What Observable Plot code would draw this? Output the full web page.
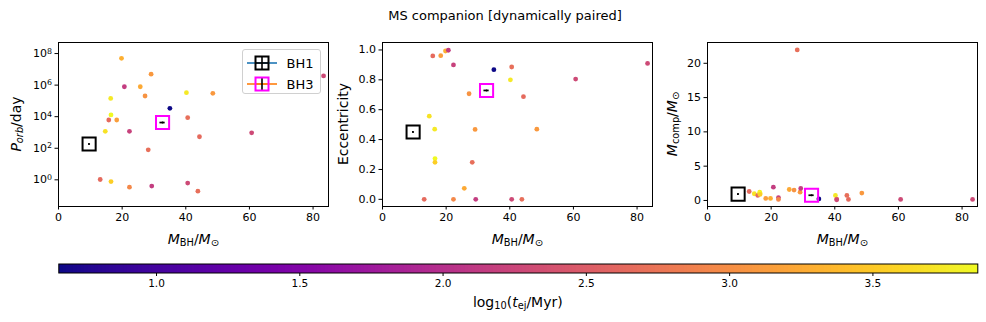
<!DOCTYPE html>
<html>
<head>
<meta charset="utf-8">
<script src="https://cdn.jsdelivr.net/npm/d3@7"></script>
<script src="https://cdn.jsdelivr.net/npm/@observablehq/plot@0.6"></script>
<style>
  html, body { margin: 0; padding: 0; background: #fff; }
  #fig { position: relative; width: 986px; height: 322px; font-family: "DejaVu Sans", sans-serif; color: #000; overflow: hidden; }
  .lbl { position: absolute; font-size: 14px; white-space: nowrap; transform: translate(-50%, -50%); line-height: 1; }
  .ylbl { transform: translate(-50%, -50%) rotate(-90deg); }
  sub { font-size: 0.7em; vertical-align: -0.25em; line-height: 0; }
  i { font-style: italic; }
  #legend { position: absolute; left: 241.5px; top: 49px; width: 79px; height: 45px; box-sizing: border-box;
            border: 1px solid #d0d0d0; border-radius: 3px; background: rgba(255,255,255,0.8); }
  .leg-row { position: absolute; left: 4px; height: 18px; display: flex; align-items: center; font-size: 13px; }
  .leg-row svg { margin-right: 10px; }
</style>
</head>
<body>
<div id="fig"></div>
<script>
// ---- data: simulated MS companions (dynamically paired) ----
const mBH   = [13.1, 14.7, 15.8, 16.4, 16.5, 16.5, 18.3, 19.8, 20.7, 22.3, 22.3, 25.7, 27.2,
               28.2, 29.1, 29.3, 35.0, 40.2, 40.6, 40.6, 43.8, 44.3, 48.5, 60.7, 83.3];
const porb  = [1.05, 1175, 6170, 144500, 12900, 0.78, 6170, 5.0e7, 7.9e5, 1175, 0.34, 7.9e5, 2.04e5,
               79, 4.9e6, 0.40, 3.4e4, 3.3e5, 8700, 0.62, 0.19, 537, 3.0e5, 955, 3.8e6];
const ecc   = [0.0, 0.557, 0.96, 0.47, 0.273, 0.248, 0.962, 0.993, 0.998, 0.90, 0.0, 0.074, 0.707,
               0.248, 0.468, 0.0, 0.868, 0.80, 0.886, 0.0, 0.0, 0.687, 0.47, 0.805, 0.91];
const mComp = [1.31, 0.98, 0.73, 1.21, 1.05, 0.88, 0.29, 0.29, 1.94, 0.42, 0.15, 1.60, 1.52,
               21.95, 1.21, 1.75, 0.22, 0.73, 0.20, 0.10, 0.73, 0.15, 1.07, 0.15, 0.15];
const logTej = [2.65, 3.70, 2.65, 3.75, 3.866, 3.55, 3.15, 3.30, 2.15, 2.20, 2.95, 3.25, 3.05,
                2.70, 3.10, 2.15, 0.659, 3.75, 2.70, 2.30, 2.70, 2.65, 3.10, 2.30, 2.30];

// ---- observed Gaia black holes ----
const bhName    = ["BH1", "BH3"];
const bhMass    = [9.62, 32.70];
const bhMassErr = [0.18, 0.82];
const bhPorb    = [185.59, 4253];
const bhEcc     = [0.451, 0.729];
const bhMcomp   = [0.93, 0.76];
const bhColor   = ["black", "magenta"];
const bhLine    = ["#1f77b4", "#ff7f0e"];

// ---- ticks / domains ----
const xTicks = [0, 20, 40, 60, 80];
const pTicks = [1e0, 1e2, 1e4, 1e6, 1e8];
const eTicks = [0, 0.2, 0.4, 0.6, 0.8, 1.0];
const mTicks = [0, 5, 10, 15, 20];
const cTicks = [1.0, 1.5, 2.0, 2.5, 3.0, 3.5];
const cDomain = [0.659, 3.866];

const rows = mBH.map((m, i) => ({mBH: m, porb: porb[i], ecc: ecc[i], mComp: mComp[i], t: logTej[i]}));
const bhs = bhName.map((n, i) => ({name: n, m: bhMass[i], m1: bhMass[i] - bhMassErr[i], m2: bhMass[i] + bhMassErr[i],
  porb: bhPorb[i], ecc: bhEcc[i], mComp: bhMcomp[i], color: bhColor[i]}));

const powFmt = d => "10^" + Math.round(Math.log10(d));

const fig = document.getElementById("fig");
const W = 270, H = 164, ML = 56, MR = 6, MT = 6, MB = 26;
const panelLefts = [58.3, 382.3, 707.3];
const panelTop = 42;

function panel(key, yOpts) {
  return Plot.plot({
    width: ML + W + MR, height: MT + H + MB,
    marginLeft: ML, marginRight: MR, marginTop: MT, marginBottom: MB,
    style: {fontFamily: "DejaVu Sans, sans-serif", fontSize: "11px", color: "black", background: "transparent", overflow: "visible"},
    x: {domain: [0, 84.85], ticks: xTicks, tickSize: 3.5, tickPadding: 3, label: null, tickFormat: d3.format("d")},
    y: Object.assign({tickSize: 3.5, tickPadding: 3, label: null}, yOpts),
    color: {type: "linear", scheme: "plasma", domain: cDomain},
    marks: [
      Plot.frame({stroke: "black", strokeWidth: 1}),
      Plot.dot(rows, {x: "mBH", y: key, fill: "t", r: 2.4, stroke: null}),
      Plot.ruleY(bhs, {y: key, x1: "m1", x2: "m2", stroke: "black", strokeWidth: 1.7}),
      Plot.dot(bhs, {x: "m", y: key, r: 1.0, fill: "black"}),
      Plot.dot(bhs, {x: "m", y: key, symbol: "square", r: 7.4, stroke: "color", strokeWidth: 2, fill: "none"})
    ]
  });
}

const panels = [
  panel("porb", {type: "log", domain: [Math.pow(10, -1.69), Math.pow(10, 8.70)], ticks: pTicks, tickFormat: powFmt}),
  panel("ecc", {domain: [-0.048, 1.05], ticks: eTicks, tickFormat: d3.format(".1f")}),
  panel("mComp", {domain: [-0.88, 23.03], ticks: mTicks, tickFormat: d3.format("d")})
];
panels.forEach((svg, i) => {
  svg.style.position = "absolute";
  svg.style.left = (panelLefts[i] - ML) + "px";
  svg.style.top = (panelTop - MT) + "px";
  fig.appendChild(svg);
});

// render power-of-ten tick labels with real superscripts
d3.select(panels[0]).selectAll("text").each(function () {
  const t = this.textContent;
  const m = /^10\^(-?\d+)$/.exec(t);
  if (!m) return;
  const sel = d3.select(this);
  sel.text("10");
  sel.append("tspan").attr("dy", "-0.45em").attr("font-size", "0.72em").text(m[1]);
});

// ---- colorbar ----
let cbar;
const CB_L = 58.3, CB_R = 986 - 977.3;
if (typeof Plot.raster === "function") {
  cbar = Plot.plot({
    width: 986, height: 9 + 28, marginLeft: CB_L, marginRight: CB_R, marginTop: 0.5, marginBottom: 27.5,
    style: {fontFamily: "DejaVu Sans, sans-serif", fontSize: "10.5px", color: "black", background: "transparent"},
    x: {domain: cDomain, ticks: cTicks, tickFormat: d3.format(".1f"), tickSize: 3.5, tickPadding: 3, label: null},
    y: {domain: [0, 1], axis: null},
    color: {type: "linear", scheme: "plasma", domain: cDomain},
    marks: [
      Plot.raster({fill: (x, y) => x, x1: cDomain[0], x2: cDomain[1], y1: 0, y2: 1, width: 919, height: 1}),
      Plot.frame({stroke: "black", strokeWidth: 1})
    ]
  });
} else {
  cbar = Plot.legend({color: {type: "linear", scheme: "plasma", domain: cDomain}, width: 986, marginLeft: CB_L, marginRight: CB_R,
    height: 37, marginTop: 0, marginBottom: 28, ticks: cTicks, tickFormat: d3.format(".1f"), label: null,
    style: {fontFamily: "DejaVu Sans, sans-serif", fontSize: "10.5px", color: "black"}});
}
cbar.style.position = "absolute";
cbar.style.left = "0px";
cbar.style.top = "263px";
fig.appendChild(cbar);

// ---- text ----
function addLabel(html, x, y, cls, size) {
  const d = document.createElement("div");
  d.className = "lbl " + (cls || "");
  d.style.left = x + "px"; d.style.top = y + "px";
  if (size) d.style.fontSize = size + "px";
  d.innerHTML = html;
  fig.appendChild(d);
}
addLabel("MS companion [dynamically paired]", 505, 15, "", 13);
const xl = "<i>M</i><sub>BH</sub>/<i>M</i><sub>⊙</sub>";
panelLefts.forEach(l => addLabel(xl, l + W / 2, 239));
addLabel("<i>P</i><sub><i>orb</i></sub>/day", 16, 124, "ylbl");
addLabel("Eccentricity", 343, 124, "ylbl");
addLabel("<i>M</i><sub>comp</sub>/<i>M</i><sub>⊙</sub>", 672, 124, "ylbl");
addLabel("log<sub>10</sub>(<i>t</i><sub>ej</sub>/Myr)", 517.8, 302);

// ---- legend ----
const leg = document.createElement("div");
leg.id = "legend";
bhs.forEach((b, i) => {
  const row = document.createElement("div");
  row.className = "leg-row";
  row.style.top = (4 + i * 21) + "px";
  row.innerHTML = `<svg width="30" height="18">
      <line x1="0" y1="9" x2="30" y2="9" stroke="${bhLine[i]}" stroke-width="1.6"/>
      <line x1="8.5" y1="9" x2="21.5" y2="9" stroke="${i === 0 ? 'black' : bhLine[i]}" stroke-width="1.6"/>
      <line x1="15" y1="2.5" x2="15" y2="15.5" stroke="black" stroke-width="1.6"/>
      <rect x="8.5" y="2.5" width="13" height="13" fill="none" stroke="${b.color}" stroke-width="2"/>
    </svg><span>${b.name}</span>`;
  leg.appendChild(row);
});
fig.appendChild(leg);
</script>
</body>
</html>
